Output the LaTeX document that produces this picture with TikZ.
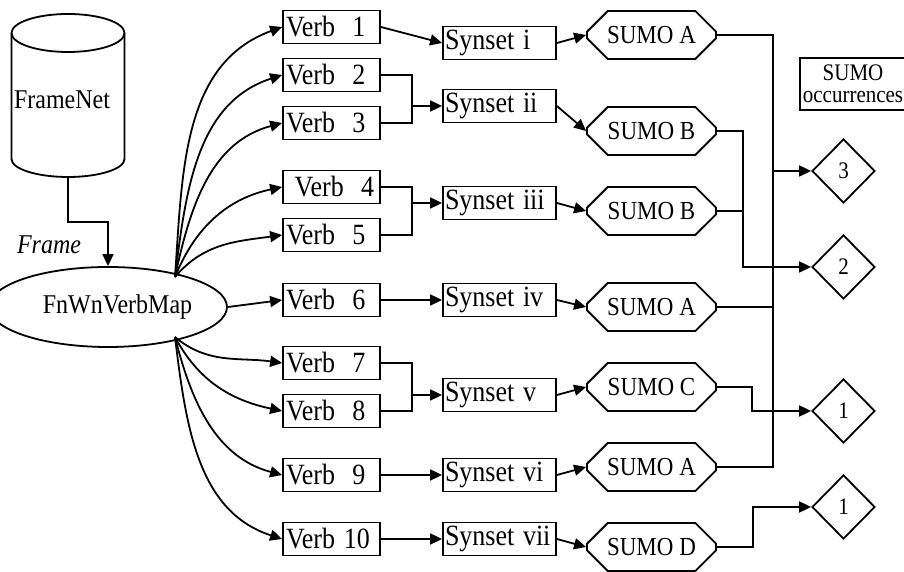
\documentclass[tikz,border=0pt]{standalone}
\usepackage{fontspec}
\setmainfont{Liberation Serif}
\usetikzlibrary{arrows.meta,shapes.geometric,shapes.misc,calc}
\newcommand\vstr[1]{\scalebox{1}[1.13]{#1}}
\begin{document}
\begin{tikzpicture}[x=1pt,y=1pt,line width=1.8pt,
  arr/.style={-{Triangle[length=12pt,width=11pt]}},
  verbbox/.style={draw,rectangle,inner xsep=3pt,inner ysep=0pt,text width=91pt,minimum height=33pt,align=left,font=\fontsize{26}{28}\selectfont},
  synbox/.style={draw,rectangle,inner xsep=2pt,inner ysep=0pt,text width=109pt,minimum height=33pt,align=left,font=\fontsize{26}{28}\selectfont},
  sumobox/.style={draw,chamfered rectangle,chamfered rectangle xsep=12pt,chamfered rectangle ysep=12pt,minimum width=129pt,minimum height=48pt,inner sep=0pt,font=\fontsize{23}{25}\selectfont},
  occ/.style={draw,diamond,aspect=1,minimum width=63pt,minimum height=64pt,inner sep=0pt,font=\fontsize{21}{23}\selectfont}]
\useasboundingbox (0,0) rectangle (904,572);
% FrameNet cylinder
\draw (11.5,539) -- (11.5,413) arc[start angle=180,end angle=360,x radius=56.5pt,y radius=18pt] -- (124.5,539);
\draw (68,539) ellipse[x radius=56.5pt,y radius=19pt];
\node[font=\fontsize{24}{26}\selectfont] (fn) at (62,472) {\vstr{FrameNet}};
\coordinate (fnbot) at (68,395);
% FnWnVerbMap
\node[draw,ellipse,minimum width=192pt,minimum height=80pt,inner sep=0pt,font=\fontsize{24}{26}\selectfont] (map) at (108,265) {\hspace*{19pt}\vstr{FnWnVerbMap}};
\draw[arr] (fnbot) -- (68,350) -| (map.north);
\node[font=\fontsize{24}{26}\selectfont\itshape] (flab) at (49,327) {\vstr{Frame}};
\coordinate (up) at (175,295);
\coordinate (dn) at (175,235);
% Verbs
\node[verbbox] (v1) at (331.5,545) {\vstr{Verb\ \ 1}};
\node[verbbox] (v2) at (331.5,497) {\vstr{Verb\ \ 2}};
\node[verbbox] (v3) at (331.5,449) {\vstr{Verb\ \ 3}};
\node[verbbox] (v4) at (331.5,385) {\vstr{\ Verb\ \ 4}};
\node[verbbox] (v5) at (331.5,337) {\vstr{Verb\ \ 5}};
\node[verbbox] (v6) at (331.5,272) {\vstr{Verb\ \ 6}};
\node[verbbox] (v7) at (331.5,209) {\vstr{Verb\ \ 7}};
\node[verbbox] (v8) at (331.5,161) {\vstr{Verb\ \ 8}};
\node[verbbox] (v9) at (331.5,97) {\vstr{Verb\ \ 9}};
\node[verbbox] (v10) at (331.5,33) {\vstr{Verb 10}};
% Synsets
\node[synbox] (s1) at (499.5,529) {\vstr{Synset i}};
\node[synbox] (s2) at (499.5,466) {\vstr{Synset ii}};
\node[synbox] (s3) at (499.5,369) {\vstr{Synset iii}};
\node[synbox] (s4) at (499.5,272) {\vstr{Synset iv}};
\node[synbox] (s5) at (499.5,177) {\vstr{Synset v}};
\node[synbox] (s6) at (499.5,97) {\vstr{Synset vi}};
\node[synbox] (s7) at (499.5,33) {\vstr{Synset vii}};
% SUMO
\node[sumobox] (a1) at (651.5,537) {\vstr{SUMO A}};
\node[sumobox] (b1) at (651.5,441) {\vstr{SUMO B}};
\node[sumobox] (b2) at (651.5,361) {\vstr{SUMO B}};
\node[sumobox] (a2) at (651.5,265) {\vstr{SUMO A}};
\node[sumobox] (c1) at (651.5,185) {\vstr{SUMO C}};
\node[sumobox] (a3) at (651.5,105) {\vstr{SUMO A}};
\node[sumobox] (d1) at (651.5,25) {\vstr{SUMO D}};
% occurrences
\node[occ] (o3) at (843.5,401) {\vstr{3}};
\node[occ] (o2) at (843.5,305) {\vstr{2}};
\node[occ] (o1) at (843.5,161) {\vstr{1}};
\node[occ] (o1b) at (843.5,65) {\vstr{1}};
\node[draw,line width=1.2pt,align=center,minimum width=106pt,minimum height=52pt,inner sep=0pt,font=\fontsize{21}{22}\selectfont] (lab) at (853,488) {\vstr{SUMO}\\\vstr{occurrences}};
% map -> verbs
\draw[arr] (up) to[out=86,in=200] (v1.west);
\draw[arr] (up) to[out=83,in=198] (v2.west);
\draw[arr] (up) to[out=78,in=195] (v3.west);
\draw[arr] (up) to[out=68,in=192] (v4.west);
\draw[arr] (up) to[out=50,in=188] (v5.west);
\draw[arr] (map.east) -- (v6.west);
\draw[arr] (dn) to[out=-40,in=172] (v7.west);
\draw[arr] (dn) to[out=-62,in=168] (v8.west);
\draw[arr] (dn) to[out=-76,in=165] (v9.west);
\draw[arr] (dn) to[out=-83,in=162] (v10.west);
% verbs -> synsets
\draw[arr] (v1.east) -- (s1.west);
\draw (v2.east) -| (412,449) -- (v3.east);
\draw[arr] (412,466) -- (s2.west);
\draw (v4.east) -| (412,337) -- (v5.east);
\draw[arr] (412,369) -- (s3.west);
\draw[arr] (v6.east) -- (s4.west);
\draw (v7.east) -| (412,161) -- (v8.east);
\draw[arr] (412,177) -- (s5.west);
\draw[arr] (v9.east) -- (s6.west);
\draw[arr] (v10.east) -- (s7.west);
% synsets -> sumo
\draw[arr] (s1.east) -- (a1.west);
\draw[arr] (s2.east) -- (b1.west);
\draw[arr] (s3.east) -- (b2.west);
\draw[arr] (s4.east) -- (a2.west);
\draw[arr] (s5.east) -- (c1.west);
\draw[arr] (s6.east) -- (a3.west);
\draw[arr] (s7.east) -- (d1.west);
% sumo -> occurrences
\draw (a1.east) -| (773,105) -- (a3.east);
\draw (a2.east) -- (773,265);
\draw[arr] (773,401) -- (o3.west);
\draw (b1.east) -| (743,361) -- (b2.east);
\draw[arr] (743,361) |- (o2.west);
\draw[arr] (c1.east) -| (752,161) -- (o1.west);
\draw[arr] (d1.east) -| (753,65) -- (o1b.west);
\end{tikzpicture}
\end{document}
